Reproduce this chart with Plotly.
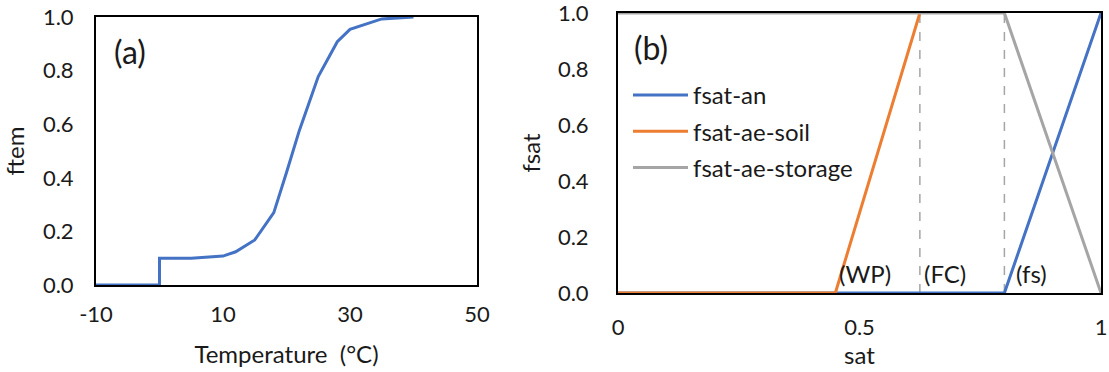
import plotly.graph_objects as go

# ---- data: panel (a) ----
temp = [-10, 0, 0, 5, 10, 12, 15, 18, 20, 22, 25, 28, 30, 35, 40]
ftem = [0.0, 0.0, 0.10, 0.10, 0.108, 0.124, 0.168, 0.27, 0.42, 0.575, 0.778, 0.908, 0.954, 0.993, 1.0]
temp_ticks = [-10, 10, 30, 50]
temp_ticktext = ["-10", "10", "30", "50"]

# ---- data: panel (b) ----
sat_an = [0, 0.8, 1]
fsat_an = [0, 0, 1]
sat_soil = [0, 0.45, 0.625]
fsat_soil = [0, 0, 1]
sat_storage = [0, 0.8, 1]
fsat_storage = [1, 1, 0]
dash_sat = [0.625, 0.8]
mark_text = ["(WP)", "(FC)", "(fs)"]
mark_sat = [0.45, 0.625, 0.8]
mark_shift = [2, 2, 10]
sat_ticks = [0, 0.5, 1]
sat_ticktext = ["0", "0.5", "1"]

BLUE = "#4472C4"
ORANGE = "#ED7D31"
GRAY = "#A5A5A5"
TXT = "#1a1a1a"
FONT = "Lato"

W, H = 1109, 372
def px_x(a, b):
    return [a / W, b / W]
def px_y(top, bottom):
    return [(H - bottom) / H, (H - top) / H]

fig = go.Figure()

fig.add_trace(go.Scatter(x=temp, y=ftem, mode="lines", xaxis="x", yaxis="y",
                         line=dict(color=BLUE, width=3), showlegend=False,
                         cliponaxis=False))

for v in dash_sat:
    fig.add_trace(go.Scatter(x=[v, v], y=[0, 1], mode="lines", xaxis="x2", yaxis="y2",
                             line=dict(color=GRAY, width=1.5, dash="dash"),
                             showlegend=False, hoverinfo="skip", cliponaxis=False))

fig.add_trace(go.Scatter(x=sat_an, y=fsat_an, mode="lines", name="fsat-an",
                         xaxis="x2", yaxis="y2", line=dict(color=BLUE, width=3),
                         legendgroup="a", cliponaxis=False))
fig.add_trace(go.Scatter(x=sat_soil, y=fsat_soil, mode="lines", name="fsat-ae-soil",
                         xaxis="x2", yaxis="y2", line=dict(color=ORANGE, width=3),
                         legendgroup="b", cliponaxis=False))
fig.add_trace(go.Scatter(x=sat_storage, y=fsat_storage, mode="lines", name="fsat-ae-storage",
                         xaxis="x2", yaxis="y2", line=dict(color=GRAY, width=3),
                         legendgroup="c", cliponaxis=False))

axis_common = dict(showline=True, mirror=True, linecolor="black", linewidth=2,
                   showgrid=False, zeroline=False, ticks="", layer="below traces",
                   automargin=False, ticklabeloverflow="allow",
                   tickfont=dict(family=FONT, size=22, color=TXT),
                   title_font=dict(family=FONT, size=24, color=TXT))

annotations = [
    dict(text="(a)", xref="x domain", yref="y domain", x=0.042, y=0.873,
         xanchor="left", yanchor="middle", showarrow=False,
         font=dict(family=FONT, size=32, color=TXT)),
    dict(text="(b)", xref="x2 domain", yref="y2 domain", x=0.029, y=0.875,
         xanchor="left", yanchor="middle", showarrow=False,
         font=dict(family=FONT, size=32, color=TXT)),
]
for t, s, sh in zip(mark_text, mark_sat, mark_shift):
    annotations.append(dict(text=t, xref="x2", yref="y2", x=s, y=0.071, xshift=sh,
                            xanchor="left", yanchor="middle", showarrow=False,
                            font=dict(family=FONT, size=24, color=TXT)))

fig.update_layout(
    width=W, height=H,
    margin=dict(l=0, r=0, t=0, b=0, pad=0),
    paper_bgcolor="white", plot_bgcolor="white",
    xaxis=dict(domain=px_x(96, 477), range=[-10, 50], tickvals=temp_ticks,
               ticktext=temp_ticktext, ticklabelstandoff=9, anchor="y",
               title=dict(text="Temperature\u00a0 (°C)", standoff=20), **axis_common),
    yaxis=dict(domain=px_y(17, 285), range=[0, 1], dtick=0.2, tickformat=".1f",
               ticklabelstandoff=16, anchor="x",
               title=dict(text="ftem", standoff=12), **axis_common),
    xaxis2=dict(domain=px_x(618, 1101), range=[0, 1], tickvals=sat_ticks,
                ticktext=sat_ticktext, ticklabelstandoff=14, anchor="y2",
                title=dict(text="sat", standoff=5), **axis_common),
    yaxis2=dict(domain=px_y(13, 293), range=[0, 1], dtick=0.2, tickformat=".1f",
                ticklabelstandoff=23, anchor="x2",
                title=dict(text="fsat", standoff=10), **axis_common),
    legend=dict(x=628 / W, y=(H - 73) / H, xanchor="left", yanchor="top",
                bgcolor="rgba(0,0,0,0)", traceorder="grouped", tracegroupgap=2,
                itemwidth=55,
                font=dict(family=FONT, size=24, color=TXT)),
    annotations=annotations,
)

fig.write_html("out.html", config={"displayModeBar": False},
               post_script="document.body.style.margin='0';document.body.style.padding='0';")
